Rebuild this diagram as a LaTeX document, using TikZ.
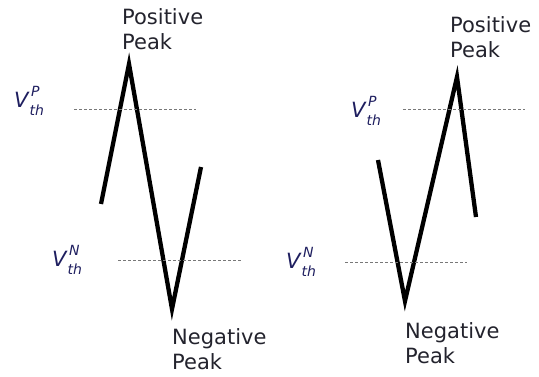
\documentclass[tikz,border=0pt]{standalone}
\usepackage{fontspec}
\setmainfont{DejaVu Sans}
\newfontfamily\vfont{DejaVu Sans}[ItalicFont={DejaVu Sans Oblique}]
\definecolor{txtc}{RGB}{35,35,45}
\definecolor{vc}{RGB}{30,30,95}
\definecolor{dashc}{RGB}{120,120,120}
\newcommand{\vth}[1]{{\vfont\itshape\fontsize{21}{21}\selectfont V\kern1pt\rlap{\raisebox{11pt}{\kern1.5pt\fontsize{14}{14}\selectfont #1}}\raisebox{-8pt}{\fontsize{14}{14}\selectfont th}}}
\begin{document}
\begin{tikzpicture}[x=1pt,y=-1pt,
  wave/.style={line width=4.3pt,line join=miter,line cap=butt,black},
  thr/.style={dashc,line width=0.9pt,dash pattern=on 3pt off 2pt},
  peaklbl/.style={font=\fontsize{21}{25}\selectfont,text=txtc,align=left,inner sep=0pt,anchor=base west},
  vlbl/.style={text=vc,inner sep=0pt,anchor=base west}]
\useasboundingbox (0,0) rectangle (539,377);
% left waveform
\coordinate (l0) at (101,204);
\coordinate (l1) at (129,64);
\coordinate (l2) at (172,309);
\coordinate (l3) at (201,167);
\draw[wave] (l0) -- (l1) -- (l2) -- (l3);
\coordinate (lpa) at (74,109);
\coordinate (lpb) at (196,109);
\coordinate (lna) at (118,260);
\coordinate (lnb) at (241,260);
\draw[thr] (lpa) -- (lpb);
\draw[thr] (lna) -- (lnb);
\node[peaklbl] (posL) at (122,50) {Positive\\Peak};
\node[peaklbl] (negL) at (172,370) {Negative\\Peak};
\node[vlbl] (vpL) at (14,108) {\vth{P}};
\node[vlbl] (vnL) at (52,267) {\vth{N}};
% right waveform
\coordinate (r0) at (378,160);
\coordinate (r1) at (405,301);
\coordinate (r2) at (457,77);
\coordinate (r3) at (476,217);
\draw[wave] (r0) -- (r1) -- (r2) -- (r3);
\coordinate (rpa) at (403,109);
\coordinate (rpb) at (525,109);
\coordinate (rna) at (345,262);
\coordinate (rnb) at (467,262);
\draw[thr] (rpa) -- (rpb);
\draw[thr] (rna) -- (rnb);
\node[peaklbl] (posR) at (450,58) {Positive\\Peak};
\node[peaklbl] (negR) at (405,363) {Negative\\Peak};
\node[vlbl] (vpR) at (351,118) {\vth{P}};
\node[vlbl] (vnR) at (286,269) {\vth{N}};
\end{tikzpicture}
\end{document}
